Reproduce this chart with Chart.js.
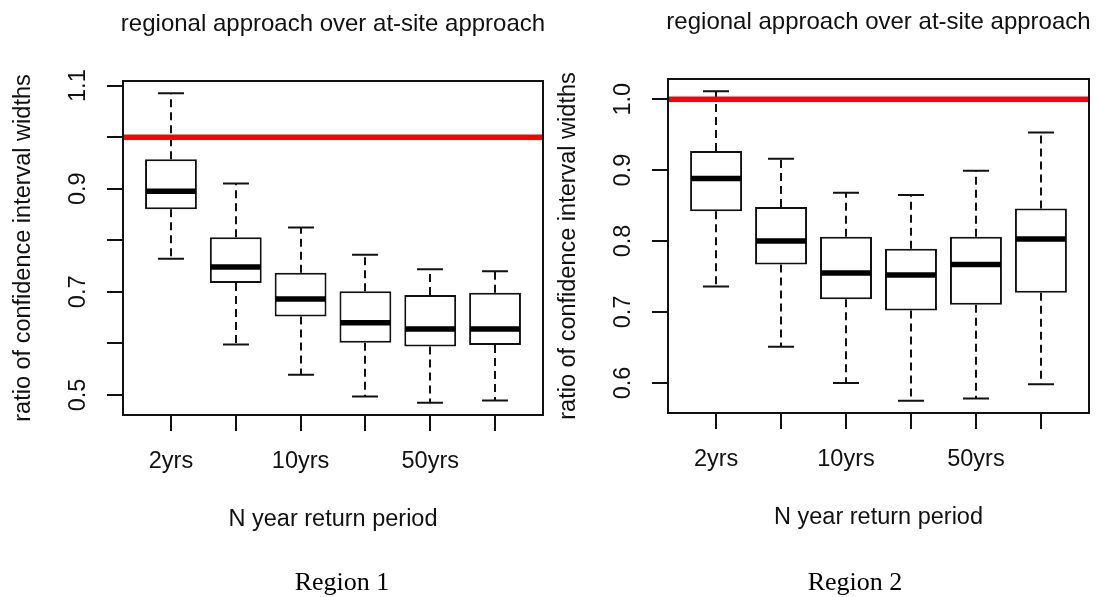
<!DOCTYPE html>
<html>
<head>
<meta charset="utf-8">
<script src="https://cdn.jsdelivr.net/npm/chart.js@4.4.0/dist/chart.umd.min.js"></script>
<style>
  html, body { margin: 0; padding: 0; background: #fff; }
  #wrap { position: relative; width: 1101px; height: 597px; overflow: hidden; }
  #wrap canvas { position: absolute; top: 0; }
  #c1 { left: 0; }
  #c2 { left: 551px; }
</style>
</head>
<body>
<div id="wrap">
  <canvas id="c1" width="551" height="597"></canvas>
  <canvas id="c2" width="550" height="597"></canvas>
</div>
<script>
// return periods on the x axis
const periods = ['2yrs', '5yrs', '10yrs', '20yrs', '50yrs', '100yrs'];

// Region 1: whisker ends, quartiles and medians of the CI width ratio
const r1Low  = [0.764, 0.598, 0.539, 0.497, 0.485, 0.489];
const r1Q1   = [0.860, 0.717, 0.652, 0.601, 0.594, 0.597];
const r1Med  = [0.895, 0.748, 0.686, 0.640, 0.628, 0.628];
const r1Q3   = [0.957, 0.806, 0.737, 0.701, 0.694, 0.698];
const r1High = [1.085, 0.910, 0.825, 0.772, 0.744, 0.740];

// Region 2
const r2Low  = [0.736, 0.651, 0.600, 0.575, 0.578, 0.598];
const r2Q1   = [0.842, 0.767, 0.718, 0.702, 0.710, 0.727];
const r2Med  = [0.888, 0.800, 0.755, 0.752, 0.767, 0.803];
const r2Q3   = [0.927, 0.848, 0.806, 0.789, 0.806, 0.846];
const r2High = [1.011, 0.916, 0.868, 0.865, 0.899, 0.953];

// reference ratio (regional = at-site)
const refRatio = 1.0;

// y ticks; blank labels are the ones that would overlap
const r1Ticks = [0.5, 0.6, 0.7, 0.8, 0.9, 1.0, 1.1];
const r1TickLabels = ['0.5', '', '0.7', '', '0.9', '', '1.1'];
const r2Ticks = [0.6, 0.7, 0.8, 0.9, 1.0];
const r2TickLabels = ['0.6', '0.7', '0.8', '0.9', '1.0'];

const INK = '#111111';
const LW = 2;
const SANS = '"Liberation Sans", Arial, sans-serif';
const SERIF = '"Liberation Serif", "Times New Roman", serif';

// R-style 4% range extension
function extend(lo, hi) {
  const d = (hi - lo) * 0.04;
  return [lo - d, hi + d];
}

const boxParts = {
  id: 'boxParts',
  // dashed whiskers and staples go under the boxes
  beforeDatasetsDraw(chart, args, o) {
    const { ctx, scales: { y } } = chart;
    const bars = chart.getDatasetMeta(1).data;
    ctx.save();
    ctx.strokeStyle = INK;
    ctx.lineWidth = LW;
    bars.forEach((bar, i) => {
      const cx = Math.round(bar.x);
      const yHi = y.getPixelForValue(o.high[i]);
      const yLo = y.getPixelForValue(o.low[i]);
      const yQ3 = y.getPixelForValue(o.q3[i]);
      const yQ1 = y.getPixelForValue(o.q1[i]);
      ctx.setLineDash([8, 5]);
      ctx.beginPath();
      ctx.moveTo(cx, yQ3); ctx.lineTo(cx, yHi);
      ctx.moveTo(cx, yQ1); ctx.lineTo(cx, yLo);
      ctx.stroke();
      ctx.setLineDash([]);
      const cap = bar.width / 4;
      ctx.beginPath();
      ctx.moveTo(cx - cap, yHi); ctx.lineTo(cx + cap, yHi);
      ctx.moveTo(cx - cap, yLo); ctx.lineTo(cx + cap, yLo);
      ctx.stroke();
    });
    ctx.restore();
  },
  // thick medians on top of the boxes
  afterDatasetDraw(chart, args, o) {
    if (args.index !== 1) return;
    const { ctx, scales: { y } } = chart;
    ctx.save();
    ctx.strokeStyle = '#000';
    ctx.lineWidth = 5.5;
    args.meta.data.forEach((bar, i) => {
      const py = y.getPixelForValue(o.med[i]);
      ctx.beginPath();
      ctx.moveTo(bar.x - bar.width / 2 + 1, py);
      ctx.lineTo(bar.x + bar.width / 2 - 1, py);
      ctx.stroke();
    });
    ctx.restore();
  },
  // frame, y tick labels and the texts
  afterDraw(chart, args, o) {
    const { ctx, chartArea: a, scales: { y } } = chart;
    ctx.save();
    ctx.strokeStyle = INK;
    ctx.lineWidth = LW;
    ctx.strokeRect(a.left, a.top, a.right - a.left, a.bottom - a.top);

    ctx.fillStyle = INK;
    ctx.textAlign = 'center';
    ctx.textBaseline = 'middle';
    ctx.font = '23.5px ' + SANS;
    o.ticks.forEach((v, i) => {
      if (!o.tickLabels[i]) return;
      ctx.save();
      ctx.translate(a.left - 44, y.getPixelForValue(v));
      ctx.rotate(-Math.PI / 2);
      ctx.fillText(o.tickLabels[i], 0, 0);
      ctx.restore();
    });

    const midX = (a.left + a.right) / 2;
    const midY = (a.top + a.bottom) / 2;
    ctx.save();
    ctx.translate(a.left - 99, midY);
    ctx.rotate(-Math.PI / 2);
    ctx.fillText('ratio of confidence interval widths', 0, 0);
    ctx.restore();

    ctx.textBaseline = 'alphabetic';
    ctx.font = '24px ' + SANS;
    ctx.fillText('regional approach over at-site approach', midX, a.top - 50);
    ctx.font = '23.5px ' + SANS;
    ctx.fillText('N year return period', midX, a.bottom + 111);

    ctx.fillStyle = '#000';
    ctx.font = '26px ' + SERIF;
    ctx.fillText(o.caption, o.captionX, 590);
    ctx.restore();
  }
};

function makePanel(id, s) {
  const all = s.low.concat(s.high);
  const yr = extend(Math.min(...all), Math.max(...all));
  const xr = extend(0.5, periods.length + 0.5);
  return new Chart(document.getElementById(id), {
    data: {
      datasets: [
        {
          type: 'line',
          data: [{ x: xr[0], y: refRatio }, { x: xr[1], y: refRatio }],
          borderColor: '#ff0000',
          borderWidth: 5.5,
          pointRadius: 0,
          order: 0
        },
        {
          type: 'bar',
          data: periods.map((p, i) => ({ x: i + 1, y: [s.q1[i], s.q3[i]] })),
          backgroundColor: '#ffffff',
          borderColor: INK,
          borderWidth: LW,
          borderSkipped: false,
          barPercentage: 0.8,
          categoryPercentage: 1,
          order: 1
        }
      ]
    },
    options: {
      responsive: false,
      animation: false,
      events: [],
      layout: { padding: { top: s.top, right: s.right, left: 0, bottom: 0 } },
      plugins: {
        legend: { display: false },
        tooltip: { enabled: false },
        boxParts: {
          low: s.low, q1: s.q1, med: s.med, q3: s.q3, high: s.high,
          ticks: s.ticks, tickLabels: s.tickLabels,
          caption: s.caption, captionX: s.captionX
        }
      },
      scales: {
        x: {
          type: 'linear',
          min: xr[0],
          max: xr[1],
          offset: false,
          afterBuildTicks: sc => { sc.ticks = periods.map((p, i) => ({ value: i + 1 })); },
          afterFit: sc => { sc.height = s.bottomSpace; },
          ticks: {
            autoSkip: false,
            maxRotation: 0,
            padding: 16,
            color: INK,
            font: { family: SANS, size: 23.5 },
            callback: v => ((v - 1) % 2 === 0 ? periods[v - 1] : '')
          },
          grid: { offset: false, drawOnChartArea: false, tickLength: 16, color: INK, lineWidth: LW },
          border: { display: false }
        },
        y: {
          type: 'linear',
          min: yr[0],
          max: yr[1],
          afterBuildTicks: sc => { sc.ticks = s.ticks.map(v => ({ value: v })); },
          afterFit: sc => { sc.width = s.leftSpace; },
          ticks: { display: false },
          grid: { drawOnChartArea: false, tickLength: 16, color: INK, lineWidth: LW },
          border: { display: false }
        }
      }
    },
    plugins: [boxParts]
  });
}

makePanel('c1', {
  low: r1Low, q1: r1Q1, med: r1Med, q3: r1Q3, high: r1High,
  ticks: r1Ticks, tickLabels: r1TickLabels,
  caption: 'Region 1', captionX: 342,
  top: 81, right: 8, leftSpace: 123, bottomSpace: 182
});

makePanel('c2', {
  low: r2Low, q1: r2Q1, med: r2Med, q3: r2Q3, high: r2High,
  ticks: r2Ticks, tickLabels: r2TickLabels,
  caption: 'Region 2', captionX: 304,
  top: 79, right: 12, leftSpace: 117, bottomSpace: 184
});
</script>
</body>
</html>
